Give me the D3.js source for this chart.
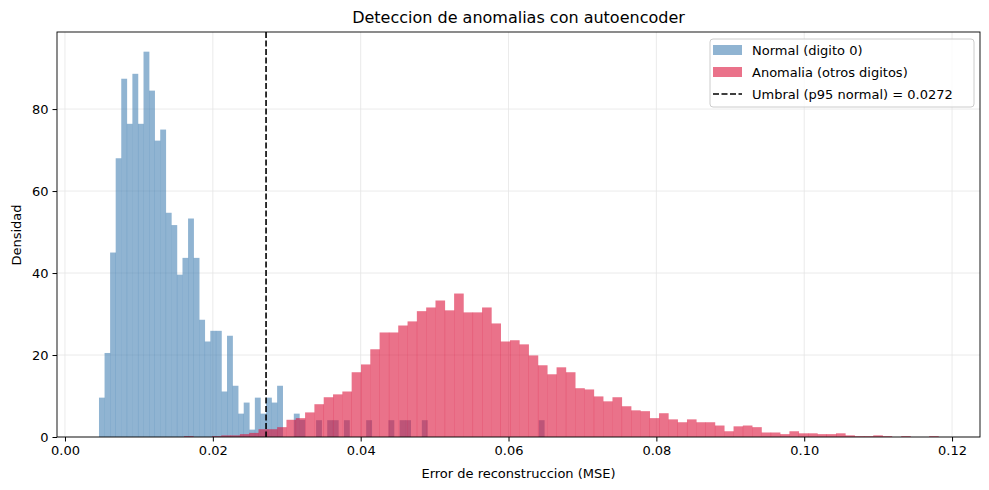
<!DOCTYPE html>
<html><head><meta charset="utf-8">
<script src="https://cdn.jsdelivr.net/npm/d3@7"></script>
<style>body{margin:0;background:#fff}svg{font-family:"DejaVu Sans",sans-serif}</style>
</head><body><svg id="c" width="989" height="490"></svg>
<script>
const title = "Deteccion de anomalias con autoencoder";
const xLabel = "Error de reconstruccion (MSE)";
const yLabel = "Densidad";
const legendLabels = ["Normal (digito 0)", "Anomalia (otros digitos)", "Umbral (p95 normal) = 0.0272"];
const threshold = 0.0272;
const xTicks = [0, 0.02, 0.04, 0.06, 0.08, 0.10, 0.12];
const yTicks = [0, 20, 40, 60, 80];
const normalStart = 0.0046, normalBinWidth = 0.000753;
const normalDensity = [9.6,20.5,45,68,87.4,76.4,88.6,76.4,94,84.5,72.3,75,54.7,51.7,39.6,43.7,53.3,43.7,28.6,23.3,25.9,25.9,11.1,24.7,12.5,5.7,8.4,1.8,9.6,5.7,9.6,8.4,12.5,
 0,0,5.7,4.2,0,0,4.1,0,4.1,4.1,0,4.1,0,0,0,4.1,0,0,0,4.1,0,4.1,4.1,0,0,4.1,0,0,0,0,0,0,0,0,0,0,0,0,0,0,0,0,0,0,0,0,4.1];
const anomStart = 0.0161, anomBinWidth = 0.00126;
const anomDensity = [0.2,0,0,0.2,0.4,0.4,0.7,1,1.9,1.9,2.4,4.2,4.6,6,8,9.7,10.4,11.1,15.8,17.7,21.4,25.5,25.5,27.2,28.2,30.7,31.6,33.3,30.9,35,30.4,30.4,31.6,27.7,23.3,23.6,22.6,19.9,17.5,15.3,17,15.8,
 11.9,11.6,9.9,8.7,9.7,7.5,6.5,6.3,4.6,5.8,4.3,3.6,4.3,3.6,3.6,2.8,1.4,2.6,2.8,2.4,1.1,1.1,0.7,1.4,0.9,0.9,0.7,0.7,0.9,0.4,0.2,0.2,0.4,0.2,0,0.2,0,0,0.2];

const svg = d3.select("#c");
const L=57,R=980,T=32,B=437;
const x = d3.scaleLinear().domain([-0.00108, 0.12378]).range([L,R]);
const y = d3.scaleLinear().domain([0, 98.8]).range([B,T]);

// grid
svg.append("g").selectAll("line").data(xTicks).join("line")
 .attr("x1",d=>x(d)).attr("x2",d=>x(d)).attr("y1",T).attr("y2",B).attr("stroke","#e5e5e5").attr("stroke-width",0.8);
svg.append("g").selectAll("line").data(yTicks).join("line")
 .attr("x1",L).attr("x2",R).attr("y1",d=>y(d)).attr("y2",d=>y(d)).attr("stroke","#e5e5e5").attr("stroke-width",0.8);

function bars(data,start,w,color){
 svg.append("g").selectAll("rect").data(data).join("rect")
  .attr("x",(d,i)=>x(start+i*w)).attr("width",(d,i)=>x(start+(i+1)*w)-x(start+i*w)+0.3)
  .attr("y",d=>y(d)).attr("height",d=>B-y(d)).attr("fill",color).attr("fill-opacity",0.6);
}
bars(normalDensity,normalStart,normalBinWidth,"#4682b4");
bars(anomDensity,anomStart,anomBinWidth,"#dc143c");

svg.append("line").attr("x1",x(threshold)).attr("x2",x(threshold)).attr("y1",T).attr("y2",B)
 .attr("stroke","#000").attr("stroke-width",1.6).attr("stroke-dasharray","6,2.5");

svg.append("rect").attr("x",L).attr("y",T).attr("width",R-L).attr("height",B-T).attr("fill","none").attr("stroke","#000").attr("stroke-width",0.9);

const xa = svg.append("g").attr("transform",`translate(0,${B})`)
 .call(d3.axisBottom(x).tickValues(xTicks).tickFormat(d3.format(".2f")).tickSize(4.5).tickPadding(4));
const ya = svg.append("g").attr("transform",`translate(${L},0)`)
 .call(d3.axisLeft(y).tickValues(yTicks).tickSize(4.5).tickPadding(4));
[xa,ya].forEach(a=>{a.select(".domain").remove();a.selectAll("text").attr("font-size",13).attr("fill","#000").attr("font-family","DejaVu Sans");a.selectAll("line").attr("stroke","#000");});

svg.append("text").attr("x",(L+R)/2).attr("y",23).attr("text-anchor","middle").attr("font-size",16).text(title);
svg.append("text").attr("x",(L+R)/2).attr("y",478).attr("text-anchor","middle").attr("font-size",13).text(xLabel);
svg.append("text").attr("transform","translate(21,235) rotate(-90)").attr("text-anchor","middle").attr("font-size",13).text(yLabel);

const lg = svg.append("g");
lg.append("rect").attr("x",710).attr("y",39).attr("width",264).attr("height",68).attr("rx",3)
 .attr("fill","#fff").attr("fill-opacity",0.8).attr("stroke","#ccc");
const lc=["#4682b4","#dc143c"];
legendLabels.forEach((t,i)=>{
 const yy=50+i*22;
 if(i<2) lg.append("rect").attr("x",713).attr("y",yy-5).attr("width",29).attr("height",10).attr("fill",lc[i]).attr("fill-opacity",0.6);
 else lg.append("line").attr("x1",713).attr("x2",742).attr("y1",yy).attr("y2",yy).attr("stroke","#000").attr("stroke-width",1.6).attr("stroke-dasharray","6,2.5");
 lg.append("text").attr("x",752).attr("y",yy+4.5).attr("font-size",13).text(t);
});
</script></body></html>
